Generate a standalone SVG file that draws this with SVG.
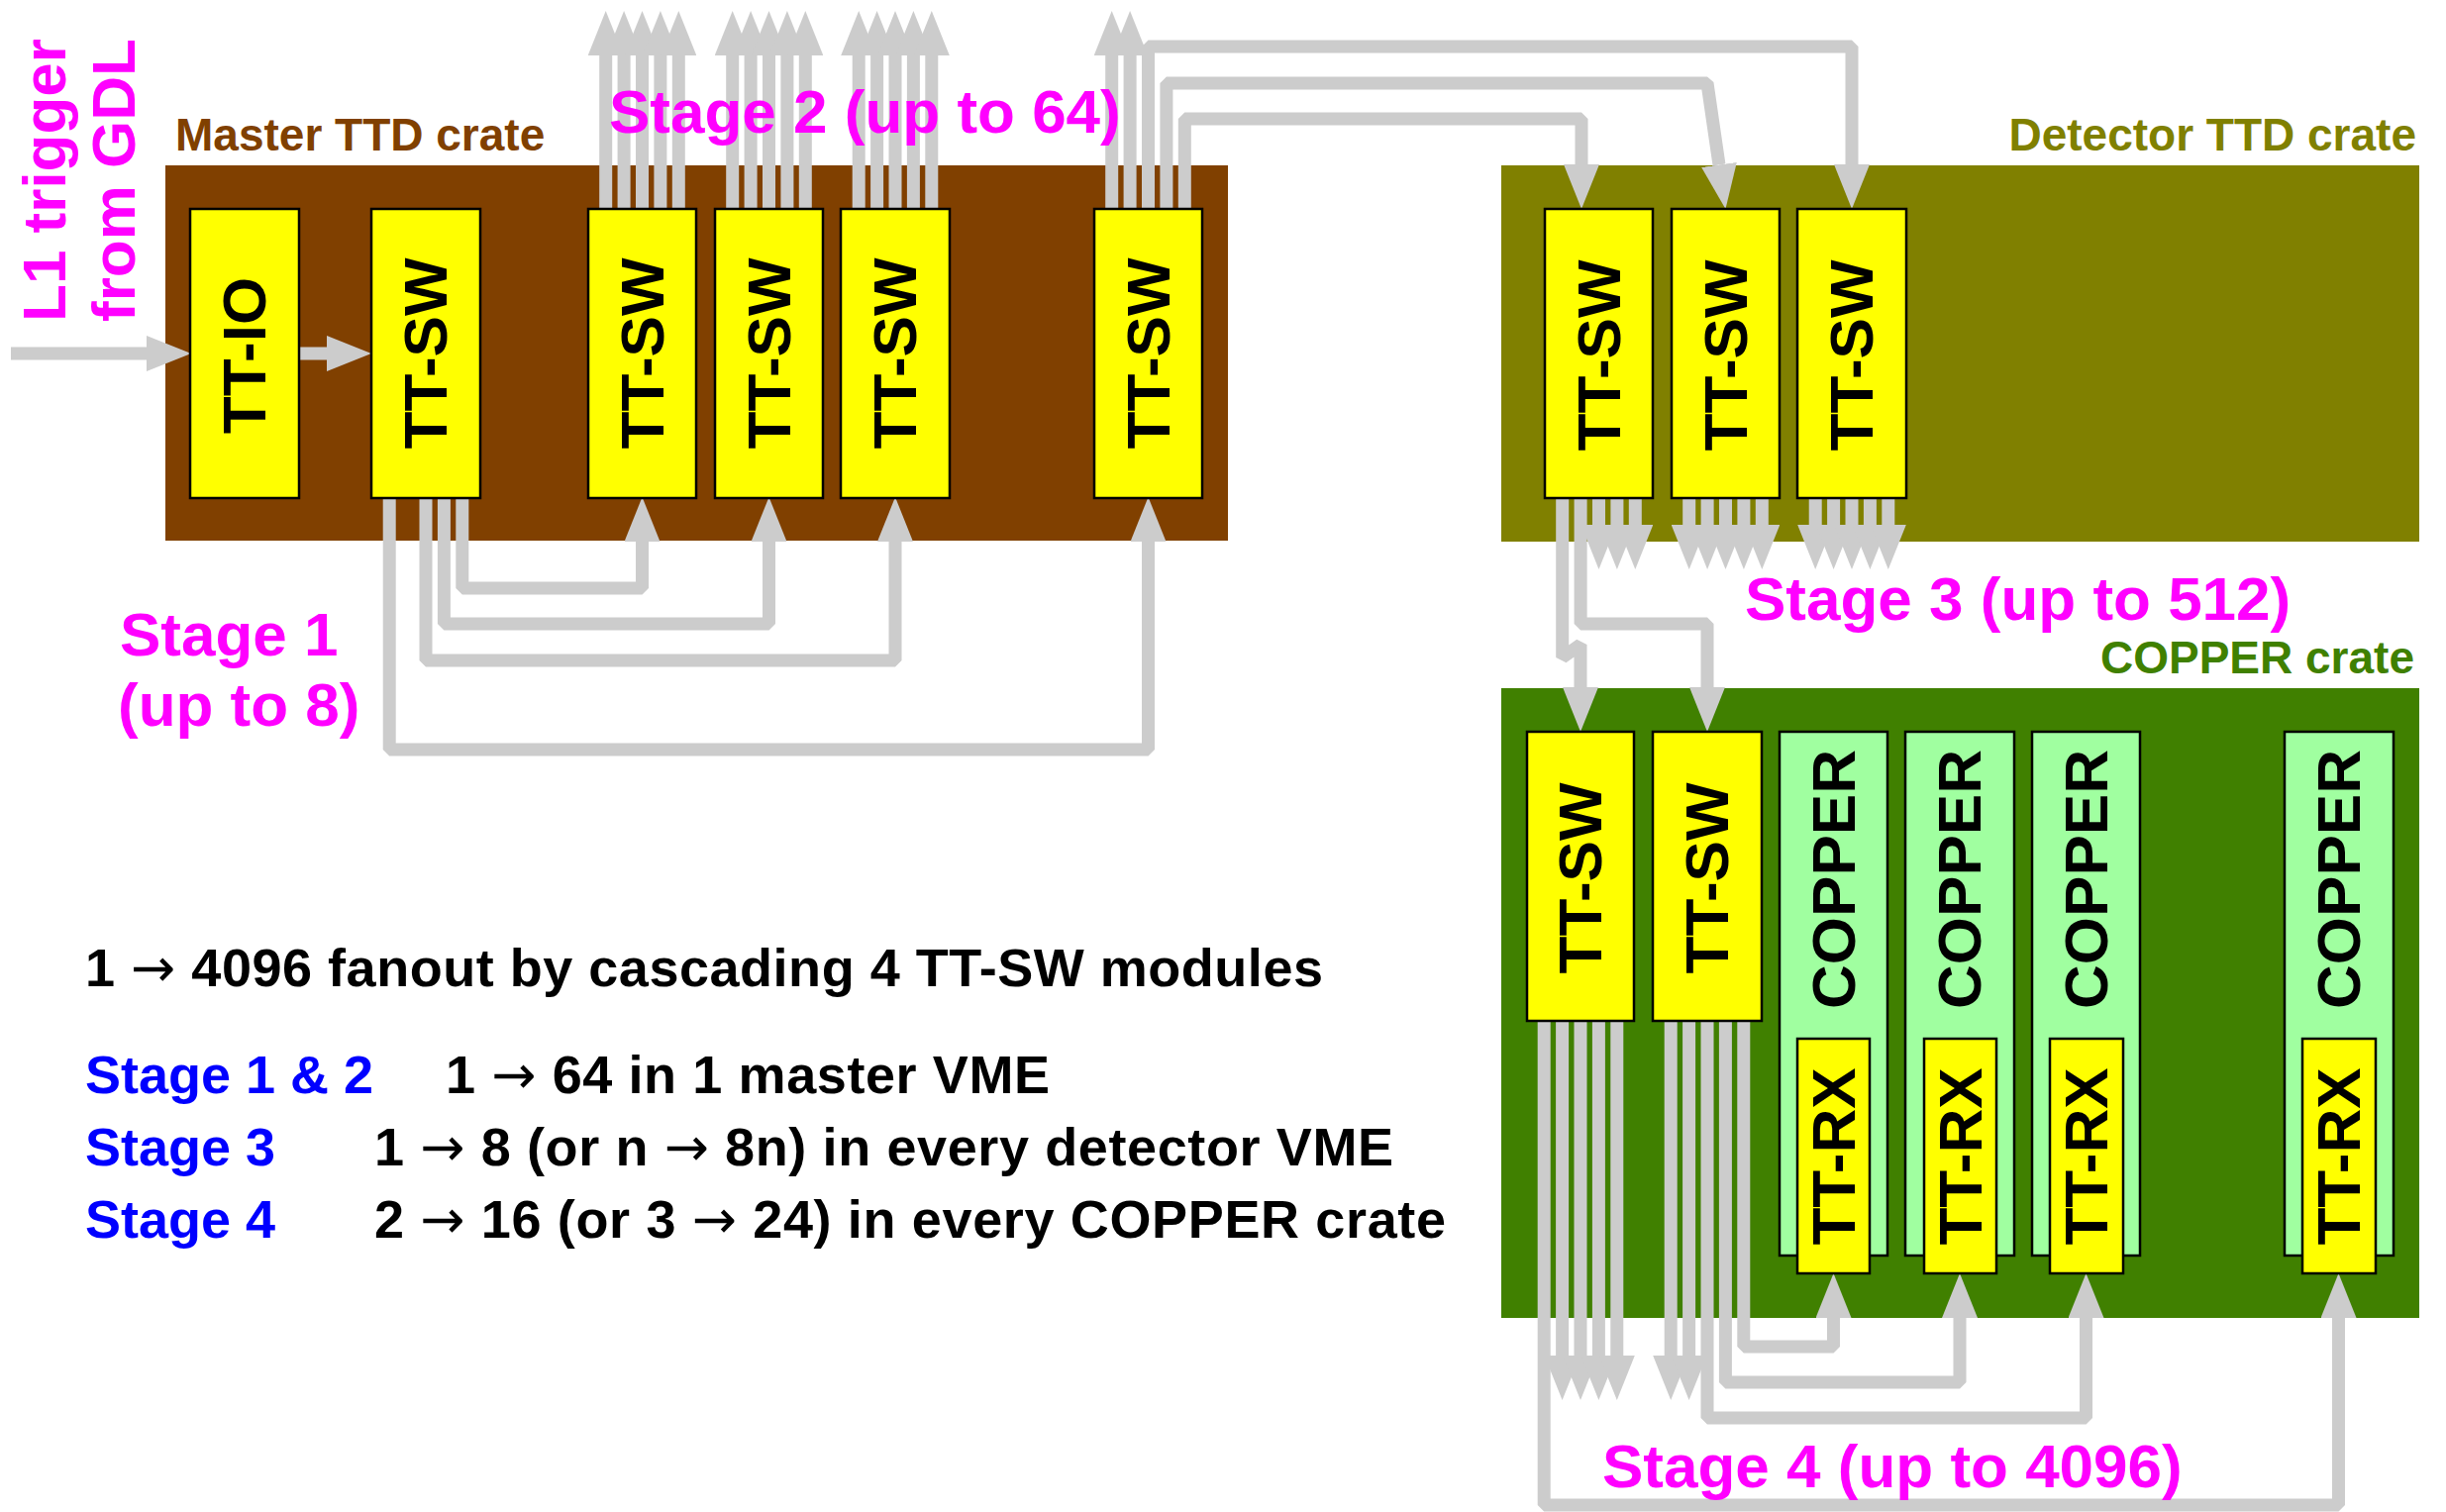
<svg xmlns="http://www.w3.org/2000/svg" width="2470" height="1527" viewBox="0 0 2470 1527">
<defs>
<style>
.crate-label{font-family:"Liberation Sans",Arial,sans-serif;font-weight:bold;font-size:46px}
.mod{stroke:#000;stroke-width:2.5}
.sw{fill:#ffff00}
.cp{fill:#a0ffa0}
.mt{font-family:"Liberation Sans",Arial,sans-serif;font-weight:bold;font-size:62px;fill:#000;text-anchor:middle}
.stage{font-family:"Liberation Sans",Arial,sans-serif;font-weight:bold;font-size:62px;fill:#ff00ff}
.note{font-family:"Liberation Sans",Arial,sans-serif;font-weight:bold;font-size:54px;fill:#000}
.arr{font-family:"DejaVu Sans",sans-serif;font-weight:normal}
.blue{fill:#0000ff}
.w{fill:none;stroke:#cccccc;stroke-width:13;stroke-linejoin:bevel;stroke-linecap:butt}
.a{marker-end:url(#ah)}
</style>
<marker id="ah" markerUnits="userSpaceOnUse" markerWidth="45" markerHeight="36" viewBox="0 0 45 36" refX="0" refY="18" orient="auto">
<path d="M0,0 L45,18 L0,36 Z" fill="#cccccc"/>
</marker>
</defs>
<rect width="2470" height="1527" fill="#ffffff"/>

<!-- Crates -->
<g id="master-crate">
<rect x="167" y="167" width="1073" height="379" fill="#804000"/>
<text class="crate-label" x="177" y="152" fill="#804000">Master TTD crate</text>
</g>
<g id="detector-crate">
<rect x="1516" y="167" width="927" height="380" fill="#808000"/>
<text class="crate-label" x="2440" y="152" fill="#808000" text-anchor="end">Detector TTD crate</text>
</g>
<g id="copper-crate">
<rect x="1516" y="695" width="927" height="636" fill="#408000"/>
<text class="crate-label" x="2438" y="680" fill="#408000" text-anchor="end">COPPER crate</text>
</g>

<!-- Connectors -->
<g id="connectors" class="w">
<path class="a" d="M11,357 H148"/>
<path class="a" d="M302,357 H330"/>
<path class="a" d="M466.8,503 V594 H648.5 V547"/>
<path class="a" d="M448.4,503 V630 H776.5 V547"/>
<path class="a" d="M430,503 V667 H904 V547"/>
<path class="a" d="M393.2,503 V757 H1159.5 V547"/>
<path class="a" d="M611.7,211 V56"/><path class="a" d="M630.1,211 V56"/><path class="a" d="M648.5,211 V56"/><path class="a" d="M666.9,211 V56"/><path class="a" d="M685.3,211 V56"/>
<path class="a" d="M739.7,211 V56"/><path class="a" d="M758.1,211 V56"/><path class="a" d="M776.5,211 V56"/><path class="a" d="M794.9,211 V56"/><path class="a" d="M813.3,211 V56"/>
<path class="a" d="M867.2,211 V56"/><path class="a" d="M885.6,211 V56"/><path class="a" d="M904,211 V56"/><path class="a" d="M922.4,211 V56"/><path class="a" d="M940.8,211 V56"/>
<path class="a" d="M1122.7,211 V56"/><path class="a" d="M1141.1,211 V56"/>
<path class="a" d="M1159.5,211 V47 H1870 V166"/>
<path class="a" d="M1177.9,211 V84 H1724 L1736,166.5"/>
<path class="a" d="M1196.3,211 V120 H1597 V166"/>
<path class="a" d="M1614.5,503 V530"/><path class="a" d="M1632.9,503 V530"/><path class="a" d="M1651.3,503 V530"/>
<path class="a" d="M1705.7,503 V530"/><path class="a" d="M1724.1,503 V530"/><path class="a" d="M1742.5,503 V530"/><path class="a" d="M1760.9,503 V530"/><path class="a" d="M1779.3,503 V530"/>
<path class="a" d="M1833.2,503 V530"/><path class="a" d="M1851.6,503 V530"/><path class="a" d="M1870,503 V530"/><path class="a" d="M1888.4,503 V530"/><path class="a" d="M1906.8,503 V530"/>
<path class="a" d="M1577.7,503 V664 L1596,651 V694"/>
<path class="a" d="M1596.1,503 V630 H1724 V694"/>
<path class="a" d="M1577.6,1031 V1369"/><path class="a" d="M1596,1031 V1369"/><path class="a" d="M1614.4,1031 V1369"/><path class="a" d="M1632.8,1031 V1369"/>
<path class="a" d="M1687.2,1031 V1369"/><path class="a" d="M1705.6,1031 V1369"/>
<path class="a" d="M1559.2,1031 V1520 H2361.5 V1331"/>
<path class="a" d="M1724,1031 V1432 H2106.5 V1331"/>
<path class="a" d="M1742.4,1031 V1396 H1979 V1331"/>
<path class="a" d="M1760.8,1031 V1360 H1851.5 V1331"/>
</g>

<!-- Master crate modules -->
<g id="tt-io"><rect class="mod sw" x="192" y="211" width="110" height="292"/><text class="mt" transform="translate(268,359) rotate(-90)">TT-IO</text></g>
<g id="m-sw1"><rect class="mod sw" x="375" y="211" width="110" height="292"/><text class="mt" transform="translate(451,357) rotate(-90)">TT-SW</text></g>
<g id="m-sw2"><rect class="mod sw" x="594" y="211" width="109" height="292"/><text class="mt" transform="translate(669.5,357) rotate(-90)">TT-SW</text></g>
<g id="m-sw3"><rect class="mod sw" x="722" y="211" width="109" height="292"/><text class="mt" transform="translate(797.5,357) rotate(-90)">TT-SW</text></g>
<g id="m-sw4"><rect class="mod sw" x="849" y="211" width="110" height="292"/><text class="mt" transform="translate(925,357) rotate(-90)">TT-SW</text></g>
<g id="m-sw5"><rect class="mod sw" x="1105" y="211" width="109" height="292"/><text class="mt" transform="translate(1180.5,357) rotate(-90)">TT-SW</text></g>

<!-- Detector crate modules -->
<g id="d-sw1"><rect class="mod sw" x="1560" y="211" width="109" height="292"/><text class="mt" transform="translate(1635.5,359) rotate(-90)">TT-SW</text></g>
<g id="d-sw2"><rect class="mod sw" x="1688" y="211" width="109" height="292"/><text class="mt" transform="translate(1763.5,359) rotate(-90)">TT-SW</text></g>
<g id="d-sw3"><rect class="mod sw" x="1815" y="211" width="110" height="292"/><text class="mt" transform="translate(1891,359) rotate(-90)">TT-SW</text></g>

<!-- COPPER crate modules -->
<g id="c-sw1"><rect class="mod sw" x="1542" y="739" width="108" height="292"/><text class="mt" transform="translate(1617,887) rotate(-90)">TT-SW</text></g>
<g id="c-sw2"><rect class="mod sw" x="1669" y="739" width="110" height="292"/><text class="mt" transform="translate(1745,887) rotate(-90)">TT-SW</text></g>

<g id="copper1"><rect class="mod cp" x="1797" y="739" width="109" height="529"/><text class="mt" transform="translate(1872.5,888) rotate(-90)">COPPER</text>
<rect class="mod sw" x="1815" y="1049" width="73" height="237"/><text class="mt" transform="translate(1872.5,1168) rotate(-90)">TT-RX</text></g>
<g id="copper2"><rect class="mod cp" x="1924" y="739" width="110" height="529"/><text class="mt" transform="translate(2000,888) rotate(-90)">COPPER</text>
<rect class="mod sw" x="1943" y="1049" width="73" height="237"/><text class="mt" transform="translate(2000.5,1168) rotate(-90)">TT-RX</text></g>
<g id="copper3"><rect class="mod cp" x="2052" y="739" width="109" height="529"/><text class="mt" transform="translate(2127.5,888) rotate(-90)">COPPER</text>
<rect class="mod sw" x="2070" y="1049" width="74" height="237"/><text class="mt" transform="translate(2128,1168) rotate(-90)">TT-RX</text></g>
<g id="copper4"><rect class="mod cp" x="2307" y="739" width="110" height="529"/><text class="mt" transform="translate(2383,888) rotate(-90)">COPPER</text>
<rect class="mod sw" x="2325" y="1049" width="74" height="237"/><text class="mt" transform="translate(2383,1168) rotate(-90)">TT-RX</text></g>

<!-- Labels -->
<g id="l1-label">
<text class="stage" text-anchor="middle" transform="translate(66,182) rotate(-90)">L1 trigger</text>
<text class="stage" text-anchor="middle" transform="translate(136,182) rotate(-90)">from GDL</text>
</g>
<g id="stage-labels">
<text class="stage" x="615" y="134">Stage 2 (up to 64)</text>
<text class="stage" x="121" y="662">Stage 1</text>
<text class="stage" x="119" y="733">(up to 8)</text>
<text class="stage" x="1762" y="626">Stage 3 (up to 512)</text>
<text class="stage" x="1618" y="1502">Stage 4 (up to 4096)</text>
</g>
<g id="notes">
<text class="note" x="86" y="996" textLength="1250" lengthAdjust="spacing">1 <tspan class="arr">→</tspan> 4096 fanout by cascading 4 TT-SW modules</text>
<text class="note blue" x="86" y="1104">Stage 1 &amp; 2</text>
<text class="note" x="450" y="1104" textLength="610" lengthAdjust="spacing">1 <tspan class="arr">→</tspan> 64 in 1 master VME</text>
<text class="note blue" x="86" y="1177">Stage 3</text>
<text class="note" x="378" y="1177" textLength="1029" lengthAdjust="spacing">1 <tspan class="arr">→</tspan> 8 (or n <tspan class="arr">→</tspan> 8n) in every detector VME</text>
<text class="note blue" x="86" y="1250">Stage 4</text>
<text class="note" x="378" y="1250" textLength="1082" lengthAdjust="spacing">2 <tspan class="arr">→</tspan> 16 (or 3 <tspan class="arr">→</tspan> 24) in every COPPER crate</text>
</g>
</svg>
